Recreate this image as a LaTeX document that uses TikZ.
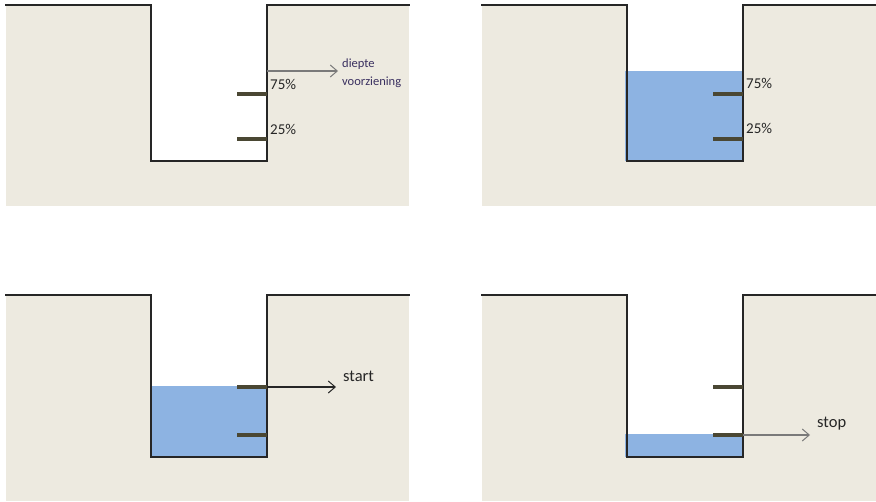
\documentclass[tikz,border=0pt]{standalone}
\usepackage{fontspec}
\setmainfont{Carlito}
\usetikzlibrary{arrows.meta}
\definecolor{ground}{HTML}{EDEAE0}
\definecolor{water}{HTML}{8DB3E2}
\definecolor{sensor}{HTML}{4A4733}
\definecolor{arrowgrey}{HTML}{7A7A7A}
\definecolor{labelpurple}{HTML}{3A3060}
\tikzset{
  wall/.style={draw=black!85, line width=1.2pt, line join=miter},
  sensorbar/.style={draw=sensor, line width=4pt},
  pct/.style={anchor=base west, inner sep=0pt, font=\fontsize{15}{17}\selectfont, text=black!85},
  bigtxt/.style={anchor=base west, inner sep=0pt, font=\fontsize{16.5}{19}\selectfont, text=black!85},
  smalltxt/.style={anchor=base west, inner sep=0pt, font=\fontsize{12.5}{14}\selectfont, text=labelpurple},
  tip/.style={-{Straight Barb[length=7pt,width=12pt,line width=1pt]}, line width=1.1pt},
}
\begin{document}
\begin{tikzpicture}[x=1pt,y=-1pt]
\useasboundingbox (0,0) rectangle (876,501);
% ---------- panel 1 ----------
\fill[ground] (6,6) rectangle (409,206);
\fill[white] (151,6) rectangle (267,161);
\draw[wall] (5,5) -- (151,5) -- (151,161) -- (267,161) -- (267,5) -- (410,5);
\draw[sensorbar] (237,94) -- (267,94);
\draw[sensorbar] (237,139) -- (267,139);
\node[pct] (p1a) at (270,89) {75\%};
\node[pct] (p1b) at (270,134) {25\%};
\coordinate (w1) at (267,71);
\node[smalltxt] (d1) at (342,67) {diepte};
\node[smalltxt] (d2) at (342,85) {voorziening};
\coordinate (e1) at (338,71);
\draw[tip, draw=arrowgrey] (w1) -- (e1);
% ---------- panel 2 ----------
\fill[ground] (482,6) rectangle (876,206);
\fill[white] (627,6) rectangle (743,161);
\fill[water] (625,71) rectangle (743,161);
\draw[wall] (481,5) -- (627,5) -- (627,161) -- (743,161) -- (743,5) -- (876,5);
\draw[sensorbar] (713,94) -- (743,94);
\draw[sensorbar] (713,139) -- (743,139);
\node[pct] (p2a) at (746,88) {75\%};
\node[pct] (p2b) at (746,133) {25\%};
% ---------- panel 3 ----------
\fill[ground] (6,296) rectangle (409,501);
\fill[white] (151,296) rectangle (267,457);
\fill[water] (151,386) rectangle (267,457);
\draw[wall] (5,295) -- (151,295) -- (151,457) -- (267,457) -- (267,295) -- (410,295);
\draw[sensorbar] (237,387) -- (267,387);
\draw[sensorbar] (237,435) -- (267,435);
\coordinate (w3) at (267,387);
\coordinate (e3) at (336,387);
\node[bigtxt] (s3) at (343,381) {start};
\draw[tip, draw=black!85] (w3) -- (e3);
% ---------- panel 4 ----------
\fill[ground] (482,296) rectangle (876,501);
\fill[white] (627,296) rectangle (743,457);
\fill[water] (625,434) rectangle (743,457);
\draw[wall] (481,295) -- (627,295) -- (627,457) -- (743,457) -- (743,295) -- (876,295);
\draw[sensorbar] (713,387) -- (743,387);
\draw[sensorbar] (713,435) -- (743,435);
\coordinate (w4) at (743,435);
\coordinate (e4) at (810,435);
\node[bigtxt] (s4) at (817,427) {stop};
\draw[tip, draw=arrowgrey] (w4) -- (e4);
\end{tikzpicture}
\end{document}
